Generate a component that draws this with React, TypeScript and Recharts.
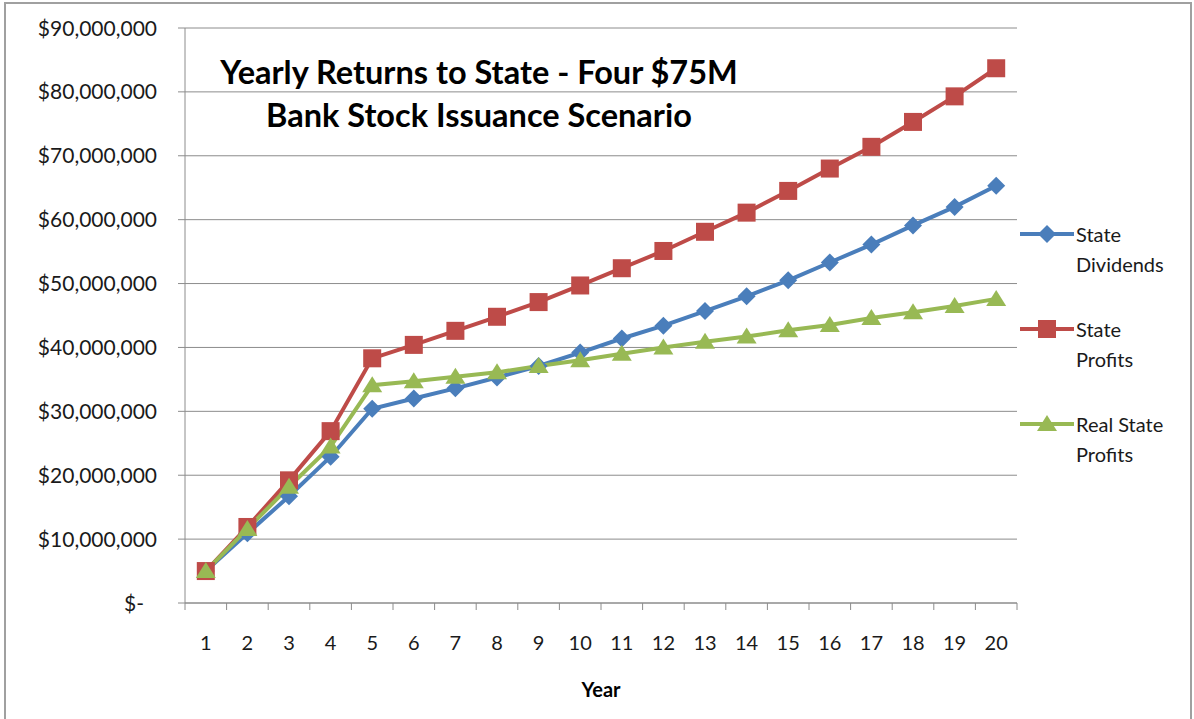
import React from "react";
import { LineChart, Line, XAxis, YAxis, CartesianGrid } from "recharts";

const years = [1, 2, 3, 4, 5, 6, 7, 8, 9, 10, 11, 12, 13, 14, 15, 16, 17, 18, 19, 20];

const stateDividends = [
  5.0, 10.9, 16.7, 22.9, 30.4, 32.0, 33.6, 35.3, 37.1, 39.2,
  41.4, 43.4, 45.7, 48.0, 50.5, 53.3, 56.1, 59.1, 62.0, 65.3,
].map((v) => v * 1e6);

const stateProfits = [
  5.0, 11.9, 19.2, 26.9, 38.3, 40.4, 42.6, 44.8, 47.1, 49.7,
  52.4, 55.1, 58.1, 61.1, 64.5, 68.0, 71.4, 75.3, 79.3, 83.7,
].map((v) => v * 1e6);

const realStateProfits = [
  5.0, 11.6, 18.2, 24.5, 34.1, 34.7, 35.4, 36.1, 37.1, 38.0,
  39.0, 40.0, 40.9, 41.7, 42.7, 43.5, 44.6, 45.5, 46.5, 47.6,
].map((v) => v * 1e6);

const yTicks = [0, 10e6, 20e6, 30e6, 40e6, 50e6, 60e6, 70e6, 80e6, 90e6];

const titleLines = ["Yearly Returns to State - Four $75M", "Bank Stock Issuance Scenario"];

const data = years.map((y, i) => ({
  year: String(y),
  dividends: stateDividends[i],
  profits: stateProfits[i],
  real: realStateProfits[i],
}));

const BLUE = "#4a7ebb";
const RED = "#be4b48";
const GREEN = "#98b954";
const GRID = "#8c8c8c";
const FONT = "Lato, 'Open Sans', sans-serif";

type Shape = "diamond" | "square" | "triangle";

function marker(shape: Shape, cx: number, cy: number, color: string, key?: string | number) {
  if (shape === "diamond") {
    return <path key={key} d={`M${cx},${cy - 9}L${cx + 9},${cy}L${cx},${cy + 9}L${cx - 9},${cy}Z`} fill={color} />;
  }
  if (shape === "square") {
    return <rect key={key} x={cx - 9} y={cy - 9} width={18} height={18} fill={color} />;
  }
  return <path key={key} d={`M${cx},${cy - 9}L${cx + 10},${cy + 7}L${cx - 10},${cy + 7}Z`} fill={color} />;
}

const series: { key: string; name: string[]; color: string; shape: Shape }[] = [
  { key: "dividends", name: ["State", "Dividends"], color: BLUE, shape: "diamond" },
  { key: "profits", name: ["State", "Profits"], color: RED, shape: "square" },
  { key: "real", name: ["Real State", "Profits"], color: GREEN, shape: "triangle" },
];

const fmtMoney = (v: number) => (v === 0 ? "$-" : "$" + v.toLocaleString("en-US"));

function YTick(props: any) {
  const { x, y, payload } = props;
  const isZero = payload.value === 0;
  return (
    <text
      x={isZero ? x - 13 : x}
      y={y}
      dy="0.36em"
      textAnchor="end"
      fill="#1a1a1a"
      fontSize={21}
      fontFamily={FONT}
    >
      {fmtMoney(payload.value)}
    </text>
  );
}

const BAND = 832 / 20;

function XTick(props: any) {
  const { x, y, payload, index } = props;
  return (
    <g>
      <line x1={x - BAND / 2} x2={x - BAND / 2} y1={y} y2={y + 7} stroke={GRID} />
      {index === years.length - 1 && (
        <line x1={x + BAND / 2} x2={x + BAND / 2} y1={y} y2={y + 7} stroke={GRID} />
      )}
      <text x={x} y={y + 47} textAnchor="middle" fill="#1a1a1a" fontSize={20} fontFamily={FONT}>
        {payload.value}
      </text>
    </g>
  );
}

export default function App() {
  return (
    <div style={{ position: "absolute", left: 0, top: 0, width: 1194, height: 719, background: "#fff", overflow: "hidden" }}>
      <div
        style={{
          position: "absolute",
          left: 4,
          top: 2,
          width: 1184,
          height: 730,
          borderLeft: "2px solid #a0a0a0",
          borderTop: "2px solid #a0a0a0",
          borderRight: "2px solid #a0a0a0",
        }}
      />
      <LineChart width={1194} height={719} data={data} margin={{ top: 28, right: 177, left: 0, bottom: 56 }}>
        <CartesianGrid stroke={GRID} vertical={false} />
        <XAxis
          dataKey="year"
          height={60}
          stroke={GRID}
          tickSize={0}
          tickMargin={0}
          tickLine={false}
          tick={<XTick />}
          interval={0}
          padding={{ left: BAND / 2, right: BAND / 2 }}
        />
        <YAxis
          width={185}
          domain={[0, 90e6]}
          ticks={yTicks}
          stroke={GRID}
          tickSize={7}
          tickMargin={21}
          tick={<YTick />}
          interval={0}
        />
        {series.map((s) => (
          <Line
            key={s.key}
            dataKey={s.key}
            stroke={s.color}
            strokeWidth={4}
            type="linear"
            isAnimationActive={false}
            dot={(p: any) => marker(s.shape, p.cx, p.cy, s.color, `${s.key}-${p.index}`)}
            activeDot={false}
          />
        ))}
      </LineChart>
      <div
        style={{
          position: "absolute",
          left: 479,
          top: 50,
          transform: "translateX(-50%)",
          textAlign: "center",
          fontFamily: FONT,
          fontWeight: 700,
          fontSize: 32.5,
          lineHeight: "43px",
          whiteSpace: "nowrap",
          color: "#000",
        }}
      >
        {titleLines.map((l) => (
          <div key={l}>{l}</div>
        ))}
      </div>
      <div
        style={{
          position: "absolute",
          left: 601,
          top: 677,
          transform: "translateX(-50%)",
          fontFamily: FONT,
          fontWeight: 700,
          fontSize: 20,
          color: "#000",
        }}
      >
        Year
      </div>
      {series.map((s, i) => (
        <div key={s.key} style={{ position: "absolute", left: 1020, top: 219 + i * 95 }}>
          <svg width={54} height={30} style={{ position: "absolute", left: 0, top: 0 }}>
            <line x1={0} x2={54} y1={15} y2={15} stroke={s.color} strokeWidth={4} />
            {marker(s.shape, 27, 15, s.color)}
          </svg>
          <div
            style={{
              position: "absolute",
              left: 56,
              top: 0,
              fontFamily: FONT,
              fontSize: 20,
              lineHeight: "30px",
              whiteSpace: "nowrap",
              color: "#1a1a1a",
            }}
          >
            {s.name.map((n) => (
              <div key={n}>{n}</div>
            ))}
          </div>
        </div>
      ))}
    </div>
  );
}
